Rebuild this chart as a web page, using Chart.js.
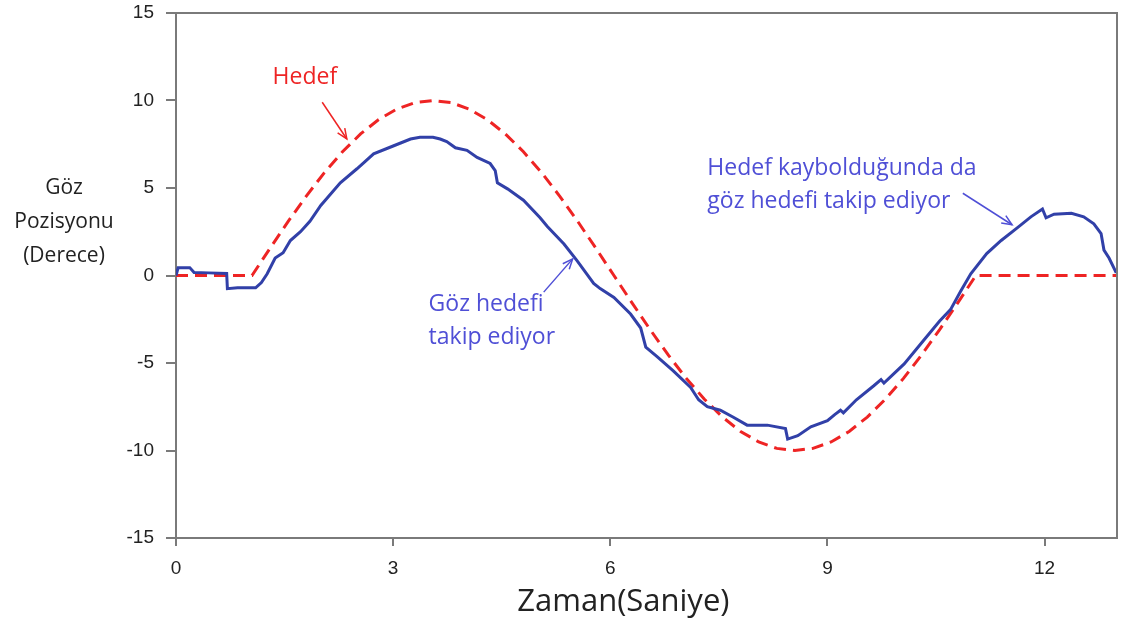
<!DOCTYPE html>
<html>
<head>
<meta charset="utf-8">
<script src="https://cdn.jsdelivr.net/npm/chart.js@4.4.1/dist/chart.umd.min.js"></script>
<style>
  body { margin: 0; background: #fff; }
  #wrap { width: 1124px; height: 628px; }
</style>
</head>
<body>
<div id="wrap"><canvas id="chart" width="1124" height="628"></canvas></div>
<script>
"use strict";

// Target (Hedef)
const targetT = [0, 1.05, 1.3, 1.55, 1.8, 2.05, 2.3, 2.55, 2.8, 3.05, 3.3, 3.55, 3.8, 4.05, 4.3, 4.55,
    4.8, 5.05, 5.3, 5.55, 5.8, 6.05, 6.3, 6.55, 6.8, 7.05, 7.3, 7.55, 7.8, 8.05, 8.3, 8.55,
    8.8, 9.05, 9.3, 9.55, 9.8, 10.05, 10.3, 10.55, 10.8, 11.05, 13];
const targetV = [0, 0, 1.56, 3.09, 4.54, 5.88, 7.07, 8.09, 8.91, 9.51, 9.88, 10, 9.88, 9.51, 8.91, 8.09,
    7.07, 5.88, 4.54, 3.09, 1.56, 0, -1.56, -3.09, -4.54, -5.88, -7.07, -8.09, -8.91, -9.51, -9.88, -10,
    -9.88, -9.51, -8.91, -8.09, -7.07, -5.88, -4.54, -3.09, -1.56, 0, 0];

// Eye position (Göz)
const eyeT = [0, 0.03, 0.19, 0.25, 0.45, 0.7, 0.71, 0.85, 1.1, 1.18, 1.26, 1.37, 1.48, 1.58, 1.72, 1.85,
    2.0, 2.27, 2.5, 2.73, 3.0, 3.24, 3.37, 3.55, 3.65, 3.74, 3.86, 4.02, 4.16, 4.34, 4.41, 4.44,
    4.58, 4.8, 5.03, 5.13, 5.36, 5.54, 5.77, 5.86, 6.05, 6.28, 6.42, 6.49, 6.65, 6.87, 7.11, 7.22,
    7.34, 7.52, 7.7, 7.89, 8.17, 8.42, 8.45, 8.59, 8.77, 9.0, 9.1, 9.18, 9.22, 9.4, 9.64, 9.74,
    9.78, 10.06, 10.33, 10.55, 10.7, 10.84, 10.98, 11.2, 11.4, 11.63, 11.81, 11.97, 12.02, 12.13, 12.37, 12.54,
    12.68, 12.78, 12.82, 12.89, 12.99];
const eyeV = [0, 0.45, 0.45, 0.17, 0.15, 0.12, -0.75, -0.7, -0.7, -0.4, 0.1, 1.0, 1.3, 2.0, 2.5, 3.1,
    4.0, 5.3, 6.1, 6.95, 7.4, 7.8, 7.9, 7.9, 7.8, 7.65, 7.3, 7.15, 6.75, 6.4, 6.0, 5.3,
    4.95, 4.3, 3.3, 2.8, 1.8, 0.85, -0.45, -0.75, -1.25, -2.2, -3.0, -4.1, -4.65, -5.45, -6.4, -7.1,
    -7.5, -7.7, -8.1, -8.55, -8.55, -8.75, -9.35, -9.15, -8.65, -8.3, -7.95, -7.7, -7.85, -7.1, -6.3, -5.95,
    -6.15, -5.05, -3.7, -2.6, -1.95, -0.9, 0.1, 1.25, 2.0, 2.75, 3.35, 3.8, 3.3, 3.5, 3.55, 3.35,
    2.95, 2.4, 1.45, 1.0, 0.15];

const xTicks = [0, 3, 6, 9, 12];
const yTicks = [-15, -10, -5, 0, 5, 10, 15];

const RED = "#ee2424";
const BLUE = "#3140a8";
const NOTE_BLUE = "#4f4fd6";
const AXIS = "#7a7a7a";

function toPoints(ts, vs) {
    return ts.map((t, i) => ({ x: t, y: vs[i] }));
}

// text notes + arrows, placed in data units
const notes = [
    { lines: ["Hedef"], t: 1.78, v: 11.3, align: "center", color: RED, arrow: [2.02, 9.9, 2.36, 7.8] },
    { lines: ["Göz hedefi", "takip ediyor"], t: 3.49, v: -1.66, align: "left", color: NOTE_BLUE, arrow: [5.08, -0.95, 5.48, 0.95] },
    { lines: ["Hedef kaybolduğunda da", "göz hedefi takip ediyor"], t: 7.34, v: 6.11, align: "left", color: NOTE_BLUE, arrow: [10.87, 4.7, 11.55, 2.9] }
];

function drawArrow(ctx, x1, y1, x2, y2, color) {
    ctx.save();
    ctx.strokeStyle = color;
    ctx.lineWidth = 1.5;
    ctx.beginPath();
    ctx.moveTo(x1, y1);
    ctx.lineTo(x2, y2);
    ctx.stroke();
    let a = Math.atan2(y2 - y1, x2 - x1);
    let len = 11;
    ctx.beginPath();
    ctx.moveTo(x2 - len * Math.cos(a - 0.4), y2 - len * Math.sin(a - 0.4));
    ctx.lineTo(x2, y2);
    ctx.lineTo(x2 - len * Math.cos(a + 0.4), y2 - len * Math.sin(a + 0.4));
    ctx.stroke();
    ctx.restore();
}

const extras = {
    id: "extras",
    afterDraw(chart) {
        let ctx = chart.ctx;
        let area = chart.chartArea;
        let xs = chart.scales.x;
        let ys = chart.scales.y;

        // frame top + right
        ctx.save();
        ctx.strokeStyle = AXIS;
        ctx.lineWidth = 2;
        ctx.beginPath();
        ctx.moveTo(area.left, area.top);
        ctx.lineTo(area.right, area.top);
        ctx.lineTo(area.right, area.bottom);
        ctx.stroke();
        ctx.restore();

        // y title (horizontal, three lines)
        ctx.save();
        ctx.fillStyle = "#222";
        ctx.font = "21px 'Open Sans'";
        ctx.textAlign = "center";
        ctx.textBaseline = "middle";
        ["Göz", "Pozisyonu", "(Derece)"].forEach((s, i) => {
            ctx.fillText(s, 64, ys.getPixelForValue(5) + i * 34);
        });

        // x title
        ctx.font = "31px 'Open Sans'";
        ctx.fillText("Zaman(Saniye)", xs.getPixelForValue(6.18), 602);

        // notes
        ctx.font = "23px 'Open Sans'";
        notes.forEach(n => {
            ctx.fillStyle = n.color;
            ctx.textAlign = n.align;
            n.lines.forEach((s, i) => {
                ctx.fillText(s, xs.getPixelForValue(n.t), ys.getPixelForValue(n.v) + i * 33);
            });
            let a = n.arrow;
            drawArrow(ctx, xs.getPixelForValue(a[0]), ys.getPixelForValue(a[1]),
                xs.getPixelForValue(a[2]), ys.getPixelForValue(a[3]), n.color);
        });
        ctx.restore();
    }
};

let ctx = document.getElementById("chart").getContext("2d");
let chart = new Chart(ctx, {
    type: "line",
    data: {
        datasets: [
            {
                label: "Hedef",
                data: toPoints(targetT, targetV),
                borderColor: RED,
                borderWidth: 3,
                borderDash: [12, 7],
                pointRadius: 0,
                tension: 0,
                order: 2
            },
            {
                label: "Göz",
                data: toPoints(eyeT, eyeV),
                borderColor: BLUE,
                borderWidth: 3,
                pointRadius: 0,
                tension: 0,
                order: 1
            }
        ]
    },
    options: {
        responsive: false,
        animation: false,
        devicePixelRatio: 1,
        layout: { padding: { left: 0, top: 13, right: 7, bottom: 0 } },
        plugins: {
            legend: { display: false },
            tooltip: { enabled: false }
        },
        scales: {
            x: {
                type: "linear",
                min: 0,
                max: 13,
                afterBuildTicks: (s) => { s.ticks = xTicks.map(v => ({ value: v })); },
                afterFit: (s) => { s.height = 90; s.paddingRight = 0; },
                grid: { drawOnChartArea: false, drawTicks: true, tickLength: 8, color: AXIS, lineWidth: 2 },
                border: { color: AXIS, width: 2 },
                ticks: { color: "#222", font: { family: "'Liberation Sans'", size: 19 }, padding: 11, maxRotation: 0 }
            },
            y: {
                min: -15,
                max: 15,
                afterBuildTicks: (s) => { s.ticks = yTicks.map(v => ({ value: v })); },
                afterFit: (s) => { s.width = 176; s.paddingTop = 0; s.paddingBottom = 0; },
                grid: { drawOnChartArea: false, drawTicks: true, tickLength: 10, color: AXIS, lineWidth: 2 },
                border: { color: AXIS, width: 2 },
                ticks: { color: "#222", font: { family: "'Liberation Sans'", size: 19 }, padding: 12 }
            }
        }
    },
    plugins: [extras]
});
</script>
</body>
</html>
